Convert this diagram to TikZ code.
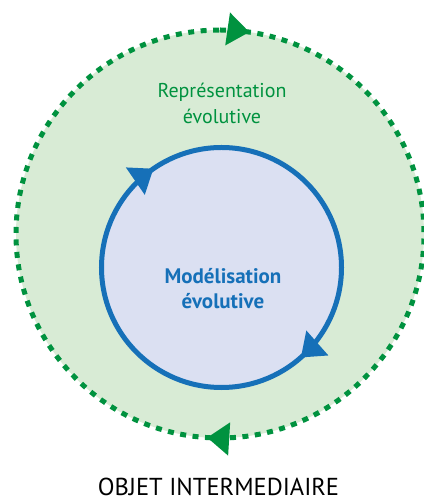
\documentclass[tikz,border=0pt]{standalone}
\usepackage{fontspec}
\setmainfont{PT Sans}
\usetikzlibrary{arrows.meta}
\usetikzlibrary{decorations.markings}
\definecolor{leafgreen}{RGB}{0,146,63}
\definecolor{palegreen}{RGB}{216,235,213}
\definecolor{deepblue}{RGB}{22,112,184}
\definecolor{paleblue}{RGB}{219,224,242}

\tikzset{
  cyclehead/.tip={Triangle[length=22pt,width=32pt]},
  outerloop/.style={leafgreen, line width=5pt, dash pattern=on 6pt off 6.5pt,
    decoration={markings,
      mark=at position 0.023 with {\arrow{cyclehead}},
      mark=at position 0.51 with {\arrow{cyclehead}}},
    postaction={decorate}},
  innerloop/.style={deepblue, line width=5pt,
    decoration={markings,
      mark=at position 0.385 with {\arrow{cyclehead}},
      mark=at position 0.904 with {\arrow{cyclehead}}},
    postaction={decorate}},
  looplabel/.style={align=center, font=\fontsize{20pt}{26pt}\selectfont}
}

\begin{document}
\begin{tikzpicture}
\useasboundingbox (-220pt,-268pt) rectangle (203pt,234pt);
\fill[palegreen] (0,0) circle (204pt);
\draw[outerloop] (0,204pt) arc[start angle=90, end angle=-270, radius=204pt];
\fill[paleblue] (1.5pt,-33.5pt) circle (120pt);
\draw[innerloop] (1.5pt,86.5pt) arc[start angle=90, end angle=-270, radius=120pt];
\node[looplabel, text=leafgreen] (repr) at (2pt,131pt) {Représentation\\évolutive};
\node[looplabel, text=deepblue, font=\bfseries\fontsize{21pt}{25pt}\selectfont] (model) at (3pt,-55pt) {Modélisation\\évolutive};
\node[font=\fontsize{24.5pt}{28pt}\selectfont, inner sep=0pt, anchor=base] (title) at (-1.5pt,-261pt) {OBJET INTERMEDIAIRE};
\end{tikzpicture}
\end{document}
